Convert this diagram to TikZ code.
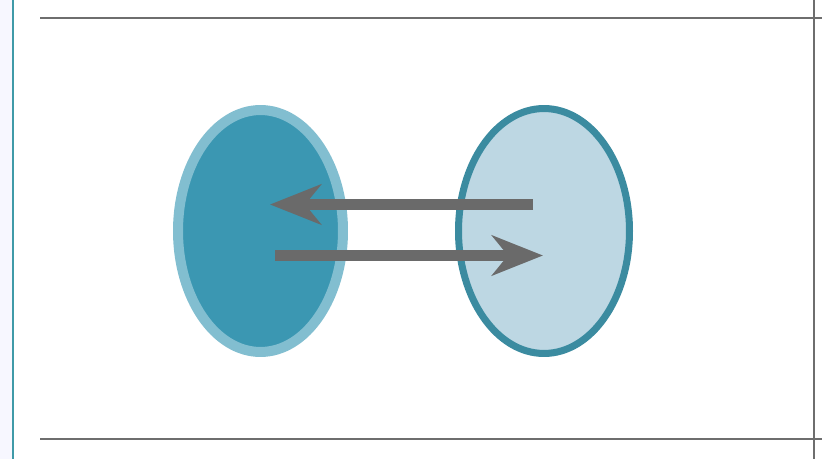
\documentclass[tikz,border=0pt]{standalone}
\usetikzlibrary{arrows.meta,shapes.geometric}
\definecolor{tealfonce}{HTML}{3B97B2}
\definecolor{tealclair}{HTML}{82BED0}
\definecolor{bleupale}{HTML}{BDD7E3}
\definecolor{tealbord}{HTML}{3B8BA0}
\definecolor{gristrait}{HTML}{6E6E6E}
\definecolor{flechegris}{HTML}{6A6A6A}
\definecolor{tealligne}{HTML}{3F9AA8}
\tikzset{
	cadre/.style={gristrait,line width=1.1pt},
	bulle/.style={ellipse,inner sep=0pt},
	fleche/.style={flechegris,line width=5.7pt,-{Stealth[length=1.02cm,width=0.8cm,inset=0.32cm]}}
}
\begin{document}
\begin{tikzpicture}[x=0.02cm,y=-0.02cm]
		\useasboundingbox (0,0) rectangle (822,459);
		
		% cadre
		\fill[blue!3] (0,0) rectangle (12,459);
		\draw[tealligne,line width=1.6pt] (13,0) to (13,459);
		\draw[cadre] (40,18) to (822,18);
		\draw[cadre] (40,439) to (822,439);
		\draw[cadre] (814,0) to (814,459);
		
		% ellipses
		\node[bulle,draw=tealclair,fill=tealfonce,line width=5.7pt,
			minimum width=3.3cm,minimum height=4.84cm] (gauche) at (260.5,231) {};
		\node[bulle,draw=tealbord,fill=bleupale,line width=4pt,
			minimum width=3.42cm,minimum height=4.9cm] (droite) at (544,231) {};
		
		% fleches
		\coordinate (hautD) at (533,204.5);
		\coordinate (hautG) at (270,204.5);
		\coordinate (basG) at (275,255.5);
		\coordinate (basD) at (543,255.5);
		\draw[fleche] (hautD) to (hautG);
		\draw[fleche] (basG) to (basD);
		
	\end{tikzpicture}
\end{document}
